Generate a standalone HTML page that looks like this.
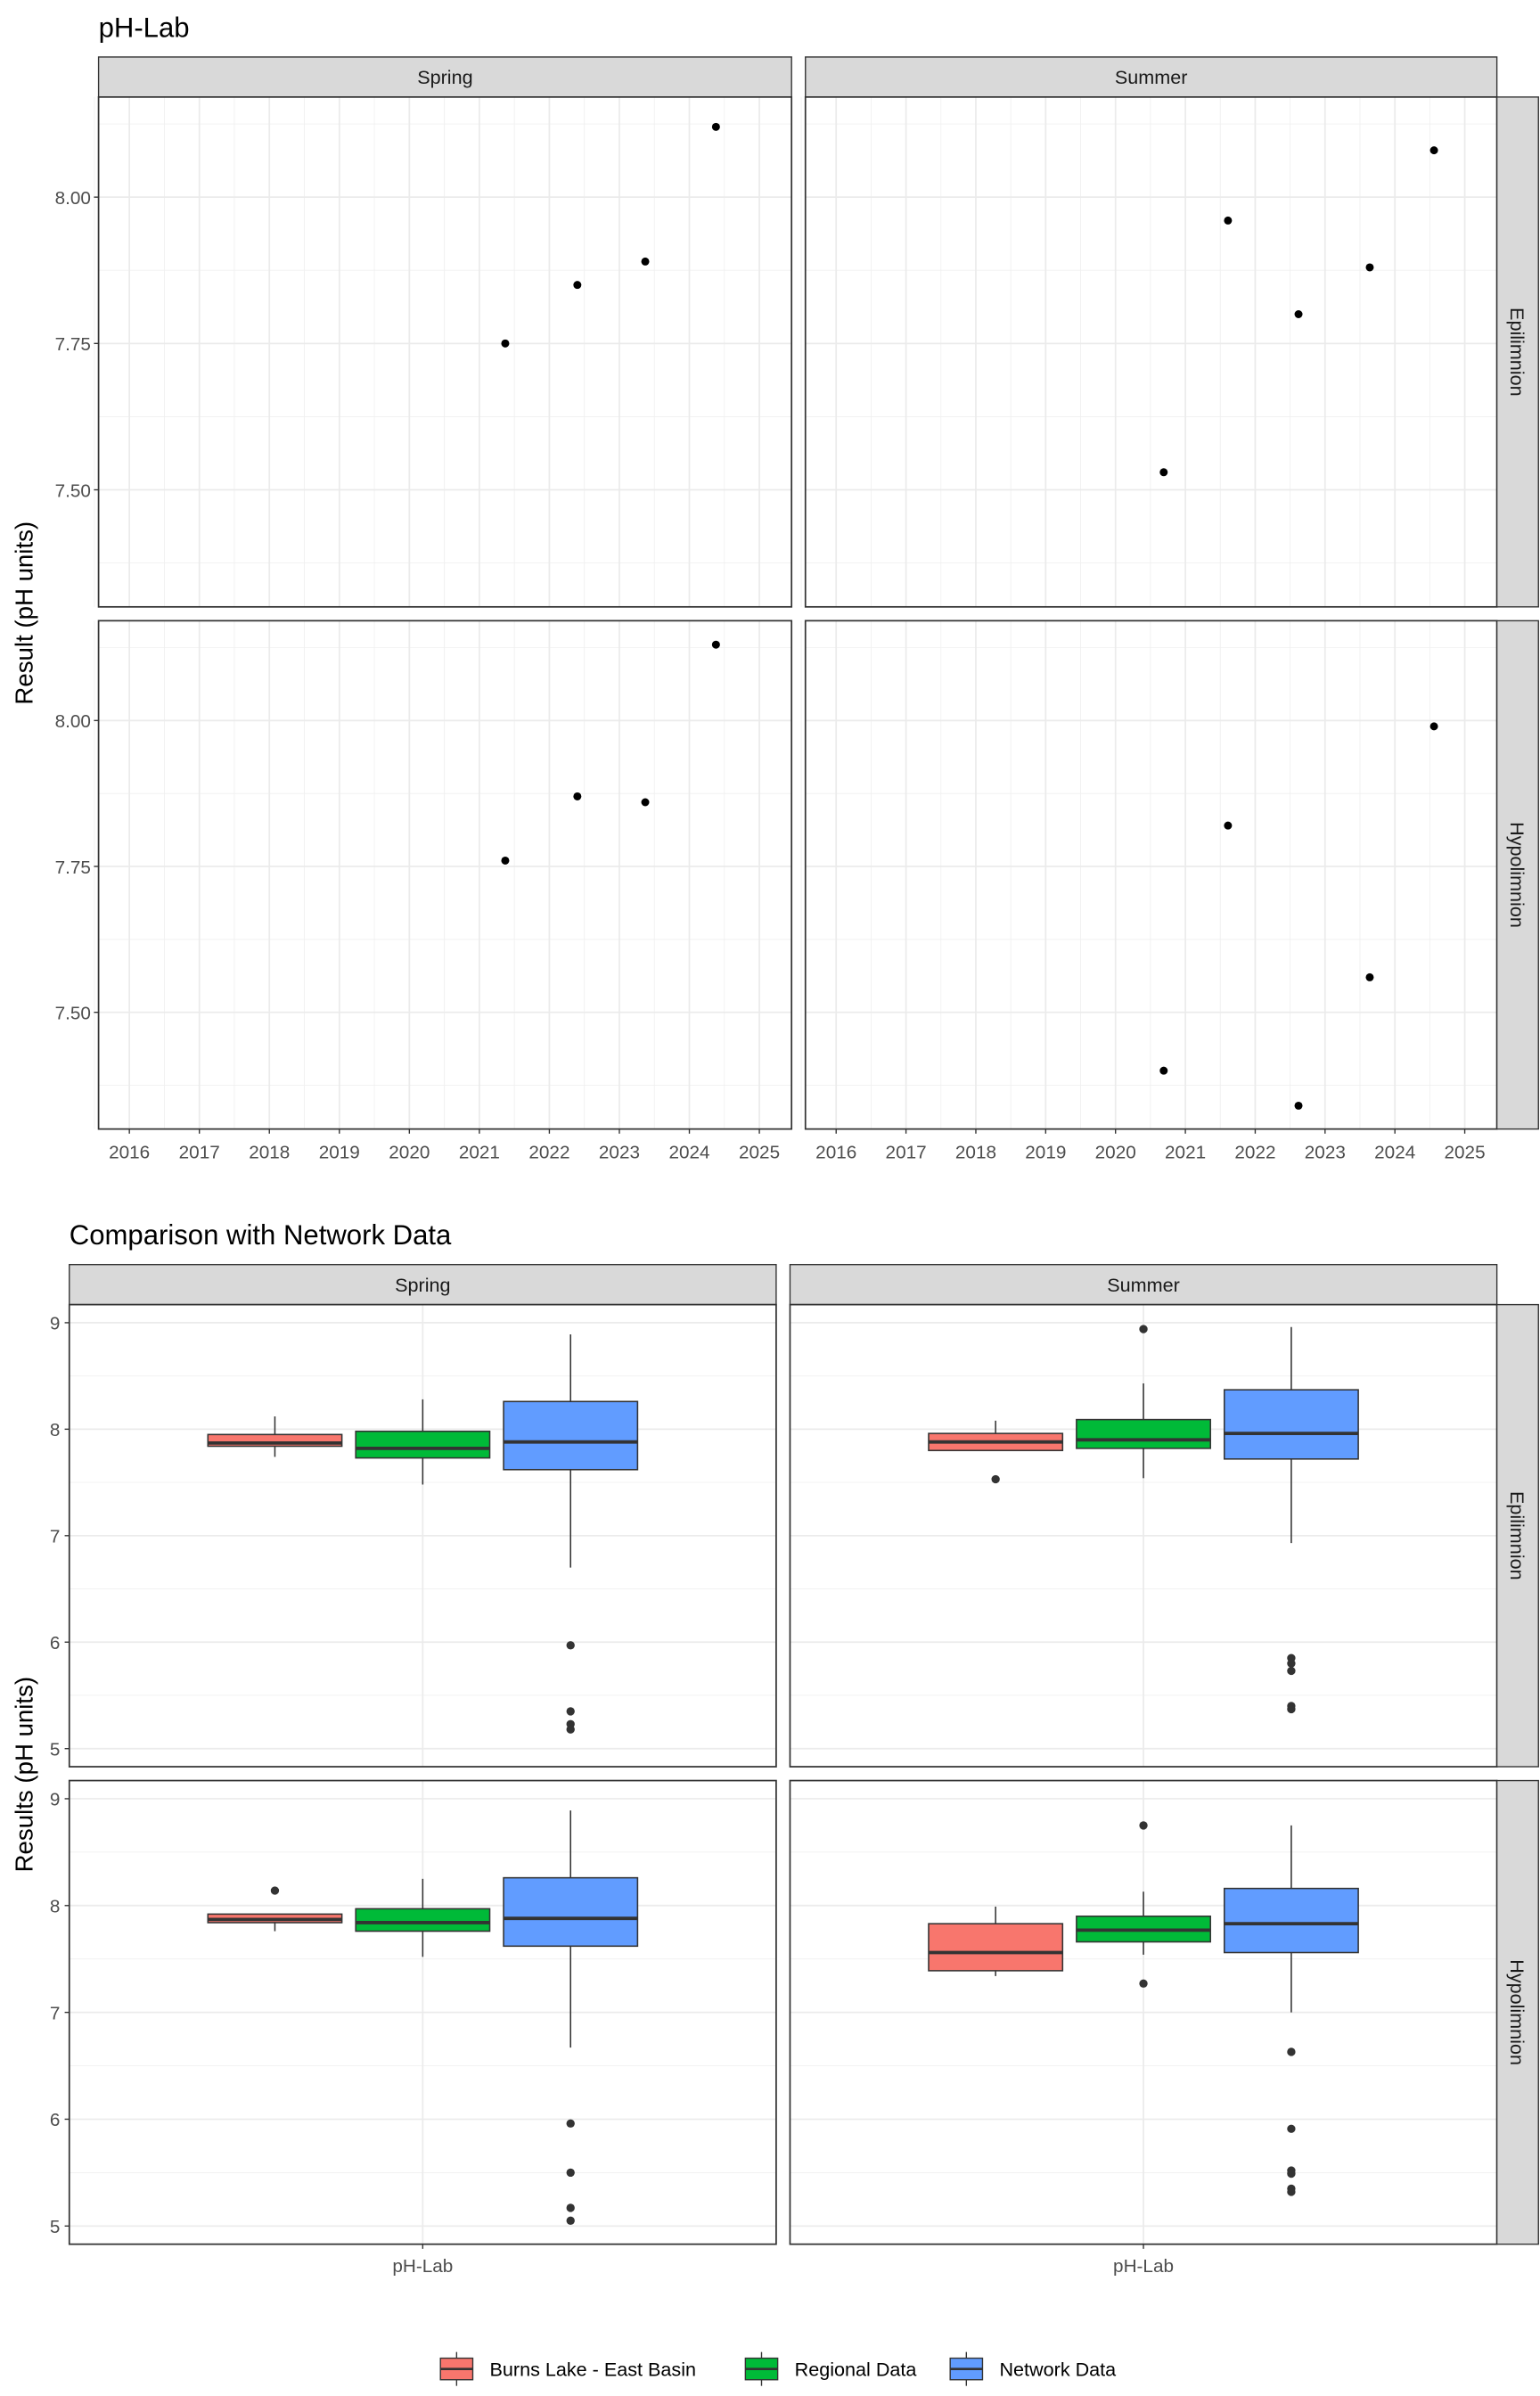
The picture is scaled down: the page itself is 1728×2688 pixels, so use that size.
<!DOCTYPE html>
<html><head><meta charset="utf-8"><style>
html,body{margin:0;padding:0;background:#fff;}
svg{display:block;font-family:"Liberation Sans",Arial,sans-serif;}
</style></head><body>
<svg id="chart" width="1728" height="2688" viewBox="0 0 1000 1555.56" xmlns="http://www.w3.org/2000/svg"></svg>
<script>
// ---- Data: time series (top chart) ----
const seasons = ["Spring", "Summer"];
const layers = ["Epilimnion", "Hypolimnion"];
const yearTicks = [2016, 2017, 2018, 2019, 2020, 2021, 2022, 2023, 2024, 2025];
const phTicks = [7.50, 7.75, 8.00];
const springEpiYears = [2021.37, 2022.40, 2023.37, 2024.38];
const springEpiValues = [7.75, 7.85, 7.89, 8.12];
const springHypoYears = [2021.37, 2022.40, 2023.37, 2024.38];
const springHypoValues = [7.76, 7.87, 7.86, 8.13];
const summerEpiYears = [2020.69, 2021.61, 2022.62, 2023.64, 2024.56];
const summerEpiValues = [7.53, 7.96, 7.80, 7.88, 8.08];
const summerHypoYears = [2020.69, 2021.61, 2022.62, 2023.64, 2024.56];
const summerHypoValues = [7.40, 7.82, 7.34, 7.56, 7.99];

// ---- Data: boxplots (bottom chart) ----
const groups = ["Burns Lake - East Basin", "Regional Data", "Network Data"];
const groupColors = ["#F8766D", "#00BA38", "#619CFF"];
const boxTicks = [5, 6, 7, 8, 9];
// [lowerWhisker, q1, median, q3, upperWhisker] per group
const springEpiBoxes = [[7.74, 7.84, 7.87, 7.95, 8.12], [7.48, 7.73, 7.82, 7.98, 8.28], [6.70, 7.62, 7.88, 8.26, 8.89]];
const springEpiOutliers = [[], [], [5.97, 5.35, 5.23, 5.18]];
const summerEpiBoxes = [[7.80, 7.80, 7.88, 7.96, 8.08], [7.54, 7.82, 7.90, 8.09, 8.43], [6.93, 7.72, 7.96, 8.37, 8.96]];
const summerEpiOutliers = [[7.53], [8.94], [5.85, 5.80, 5.73, 5.40, 5.37]];
const springHypoBoxes = [[7.76, 7.84, 7.87, 7.92, 7.92], [7.52, 7.76, 7.84, 7.97, 8.25], [6.67, 7.62, 7.88, 8.26, 8.89]];
const springHypoOutliers = [[8.14], [], [5.96, 5.50, 5.17, 5.05]];
const summerHypoBoxes = [[7.34, 7.39, 7.56, 7.83, 7.99], [7.54, 7.66, 7.77, 7.90, 8.13], [7.00, 7.56, 7.83, 8.16, 8.75]];
const summerHypoOutliers = [[], [8.75, 7.27], [6.63, 5.91, 5.52, 5.49, 5.35, 5.32]];

const NS = "http://www.w3.org/2000/svg";
const svg = document.getElementById("chart");
function el(tag, attrs, parent, text) {
  const e = document.createElementNS(NS, tag);
  for (const k in attrs) e.setAttribute(k, attrs[k]);
  if (text !== undefined) e.textContent = text;
  (parent || svg).appendChild(e);
  return e;
}
function txt(x, y, s, size, anchor, fill, rot, name) {
  const t = el("text", {x: x, y: y, "font-size": size, "text-anchor": anchor, fill: fill}, svg, s);
  if (rot) t.setAttribute("transform", `rotate(${rot} ${x} ${y})`);
  
  
  return t;
}
function stripTop(x0, x1, y0, y1, label) {
  const r = el("rect", {x: x0, y: y0, width: x1 - x0, height: y1 - y0, fill: "#d9d9d9", stroke: "#333", "stroke-width": 0.8});
  
  
  txt((x0 + x1) / 2, (y0 + y1) / 2 + 4.5, label, 12.5, "middle", "#1a1a1a", 0, 'strip-label');
}
function stripRight(x0, x1, y0, y1, label) {
  const r = el("rect", {x: x0, y: y0, width: x1 - x0, height: y1 - y0, fill: "#d9d9d9", stroke: "#333", "stroke-width": 0.8});
  
  
  txt((x0 + x1) / 2 - 4.5, (y0 + y1) / 2, label, 12.5, "middle", "#1a1a1a", 90, 'strip-label');
}

// ===== Top chart =====
txt(64, 24, "pH-Lab", 18, "start", "#000", 0, 'top-chart-title');
txt(21, 398, "Result (pH units)", 16, "middle", "#000", -90, 'top-y-axis-title');
const topPanelsX = [[64, 514], [523, 972]];
const topPanelsY = [[63, 394], [403, 733]];
const yMin = 7.30, yMax = 8.171;
const xMin = 2015.56, xMax = 2025.46;
const topData = [[[springEpiYears, springEpiValues], [springHypoYears, springHypoValues]],
                 [[summerEpiYears, summerEpiValues], [summerHypoYears, summerHypoValues]]];
seasons.forEach((s, si) => {
  const [px0, px1] = topPanelsX[si];
  stripTop(px0, px1, 37, 63, s);
  const xs = v => px0 + (v - xMin) / (xMax - xMin) * (px1 - px0);
  layers.forEach((l, li) => {
    const [py0, py1] = topPanelsY[li];
    const ys = v => py1 - (v - yMin) / (yMax - yMin) * (py1 - py0);
    const bg = el("rect", {x: px0, y: py0, width: px1 - px0, height: py1 - py0, fill: "#fff"});
    
    
    // minor grid
    for (let v = 7.375; v < yMax; v += 0.25) { if (ys(v) > py0) el("line", {x1: px0, x2: px1, y1: ys(v), y2: ys(v), stroke: "#f0f0f0", "stroke-width": 0.5}); }
    yearTicks.forEach(y => { const xm = xs(y + 0.5); if (xm < px1) el("line", {x1: xm, x2: xm, y1: py0, y2: py1, stroke: "#f0f0f0", "stroke-width": 0.5}); });
    el("line", {x1: xs(yearTicks[0] - 0.5), x2: xs(yearTicks[0] - 0.5), y1: py0, y2: py1, stroke: "#f0f0f0", "stroke-width": 0.5});
    // major grid
    phTicks.forEach(v => el("line", {x1: px0, x2: px1, y1: ys(v), y2: ys(v), stroke: "#ebebeb", "stroke-width": 1}));
    yearTicks.forEach(y => el("line", {x1: xs(y), x2: xs(y), y1: py0, y2: py1, stroke: "#ebebeb", "stroke-width": 1}));
    const [xsArr, vsArr] = topData[si][li];
    xsArr.forEach((yr, i) => {
      const c = el("circle", {cx: xs(yr), cy: ys(vsArr[i]), r: 2.6, fill: "#000"});
      
      
    });
    el("rect", {x: px0, y: py0, width: px1 - px0, height: py1 - py0, fill: "none", stroke: "#333", "stroke-width": 1});
    if (si === 0) phTicks.forEach(v => {
      el("line", {x1: px0 - 3, x2: px0, y1: ys(v), y2: ys(v), stroke: "#333", "stroke-width": 0.8});
      txt(px0 - 5, ys(v) + 4.5, v.toFixed(2), 12, "end", "#4d4d4d", 0, 'y-tick-label');
    });
    if (si === 1) stripRight(972, 999, py0, py1, l);
  });
  yearTicks.forEach(y => {
    el("line", {x1: xs(y), x2: xs(y), y1: 733, y2: 736, stroke: "#333", "stroke-width": 0.8});
    txt(xs(y), 752, String(y), 12, "middle", "#4d4d4d", 0, 'x-tick-label');
  });
});

// ===== Bottom chart =====
txt(45, 808, "Comparison with Network Data", 18, "start", "#000", 0, 'bottom-chart-title');
txt(21, 1152, "Results (pH units)", 16, "middle", "#000", -90, 'bottom-y-axis-title');
const botPanelsX = [[45, 504], [513, 972]];
const botPanelsY = [[847, 1147], [1156, 1457]];
const bMin = 4.83, bMax = 9.17;
const boxData = [[[springEpiBoxes, springEpiOutliers], [springHypoBoxes, springHypoOutliers]],
                 [[summerEpiBoxes, summerEpiOutliers], [summerHypoBoxes, summerHypoOutliers]]];
const dodge = 96, bw = 87;
seasons.forEach((s, si) => {
  const [px0, px1] = botPanelsX[si];
  const cx = (px0 + px1) / 2;
  stripTop(px0, px1, 821, 847, s);
  layers.forEach((l, li) => {
    const [py0, py1] = botPanelsY[li];
    const ys = v => py1 - (v - bMin) / (bMax - bMin) * (py1 - py0);
    el("rect", {x: px0, y: py0, width: px1 - px0, height: py1 - py0, fill: "#fff"});
    for (let v = 5.5; v < 9; v += 1) el("line", {x1: px0, x2: px1, y1: ys(v), y2: ys(v), stroke: "#f0f0f0", "stroke-width": 0.5});
    boxTicks.forEach(v => el("line", {x1: px0, x2: px1, y1: ys(v), y2: ys(v), stroke: "#ebebeb", "stroke-width": 1}));
    el("line", {x1: cx, x2: cx, y1: py0, y2: py1, stroke: "#ebebeb", "stroke-width": 1});
    const [boxes, outs] = boxData[si][li];
    boxes.forEach((b, gi) => {
      const gx = cx + (gi - 1) * dodge;
      const w = el("line", {x1: gx, x2: gx, y1: ys(b[0]), y2: ys(b[4]), stroke: "#333", "stroke-width": 0.9});
      
      
      const r = el("rect", {x: gx - bw / 2, y: ys(b[3]), width: bw, height: ys(b[1]) - ys(b[3]), fill: groupColors[gi], stroke: "#333", "stroke-width": 0.9});
      
      
      el("line", {x1: gx - bw / 2, x2: gx + bw / 2, y1: ys(b[2]), y2: ys(b[2]), stroke: "#333", "stroke-width": 2.2});
      outs[gi].forEach(o => {
        const c = el("circle", {cx: gx, cy: ys(o), r: 2.7, fill: "#333"});
        
        
      });
    });
    el("rect", {x: px0, y: py0, width: px1 - px0, height: py1 - py0, fill: "none", stroke: "#333", "stroke-width": 1});
    if (si === 0) boxTicks.forEach(v => {
      el("line", {x1: px0 - 3, x2: px0, y1: ys(v), y2: ys(v), stroke: "#333", "stroke-width": 0.8});
      txt(px0 - 6, ys(v) + 4.5, String(v), 12, "end", "#4d4d4d", 0, 'y-tick-label');
    });
    if (si === 1) stripRight(972, 999, py0, py1, l);
  });
  el("line", {x1: cx, x2: cx, y1: 1457, y2: 1460, stroke: "#333", "stroke-width": 0.8});
  txt(cx, 1475, "pH-Lab", 12, "middle", "#4d4d4d", 0, 'x-tick-label');
});

// ===== Legend =====
const legendX = [286, 484, 617];
groups.forEach((g, gi) => {
  const x = legendX[gi];
  const gEl = el("g", {});
  
  
  el("line", {x1: x + 10.5, x2: x + 10.5, y1: 1527, y2: 1549, stroke: "#333", "stroke-width": 0.8}, gEl);
  el("rect", {x: x, y: 1531, width: 21, height: 14, fill: groupColors[gi], stroke: "#333", "stroke-width": 0.8}, gEl);
  el("line", {x1: x, x2: x + 21, y1: 1538, y2: 1538, stroke: "#333", "stroke-width": 1.5}, gEl);
  el("text", {x: x + 32, y: 1542.5, "font-size": 12.5, fill: "#000"}, gEl, g);
});
</script>
</body></html>
